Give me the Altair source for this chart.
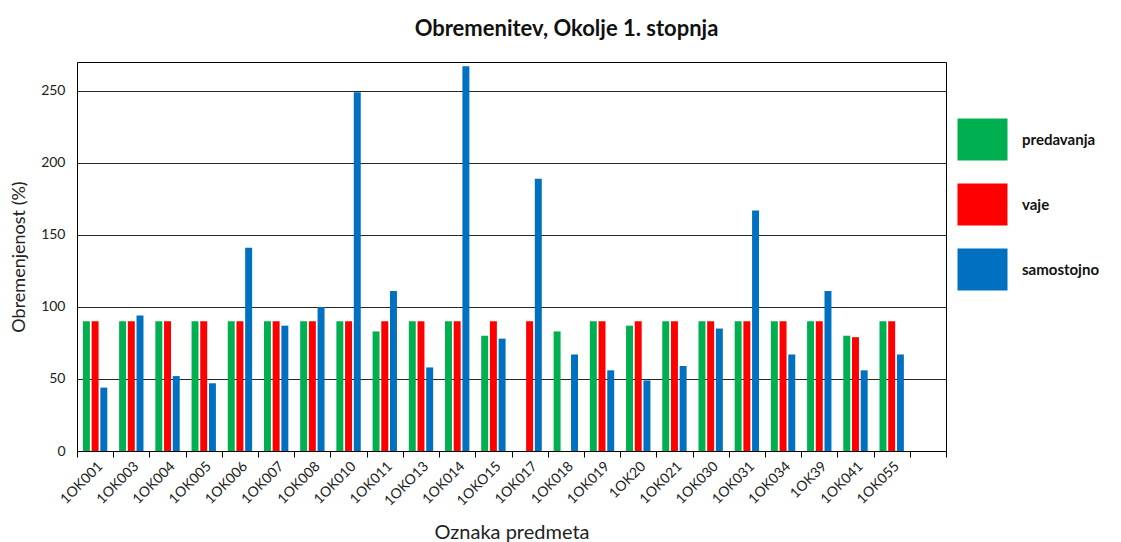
import altair as alt
import pandas as pd

categories = ["1OK001", "1OK003", "1OK004", "1OK005", "1OK006", "1OK007", "1OK008",
              "1OK010", "1OK011", "1OKO13", "1OK014", "1OKO15", "1OK017", "1OK018",
              "1OK019", "1OK20", "1OK021", "1OK030", "1OK031", "1OK034", "1OK39",
              "1OK041", "1OK055"]
predavanja = [90, 90, 90, 90, 90, 90, 90, 90, 83, 90, 90, 80, None, 83,
              90, 87, 90, 90, 90, 90, 90, 80, 90]
vaje = [90, 90, 90, 90, 90, 90, 90, 90, 90, 90, 90, 90, 90, None,
        90, 90, 90, 90, 90, 90, 90, 79, 90]
samostojno = [44, 94, 52, 47, 141, 87, 100, 249, 111, 58, 267, 78, 189, 67,
              56, 49, 59, 85, 167, 67, 111, 56, 67]

series_names = ["predavanja", "vaje", "samostojno"]
series_colors = ["#00B050", "#FF0000", "#0070C0"]

rows = []
for name, vals in zip(series_names, [predavanja, vaje, samostojno]):
    for c, v in zip(categories, vals):
        if v is not None:
            rows.append({"predmet": c, "vrsta": name, "vrednost": v})
df = pd.DataFrame(rows)

domain_x = categories + [" "]
FONT = "Lato"

chart = alt.Chart(df).mark_bar().encode(
    x=alt.X("predmet:N", sort=domain_x,
            scale=alt.Scale(domain=domain_x, paddingInner=0, paddingOuter=0),
            axis=alt.Axis(title="Oznaka predmeta", labelAngle=-45, tickBand="extent",
                          tickSize=6, tickColor="#000000", domainColor="#000000",
                          labelColor="#222222", labelFontSize=14, labelFont=FONT,
                          titleFont=FONT, titleFontSize=20, titleFontWeight="normal",
                          titleColor="#222222", titlePadding=14)),
    xOffset=alt.XOffset("vrsta:N", sort=series_names,
                        scale=alt.Scale(domain=series_names, paddingInner=0.2, paddingOuter=0.68)),
    y=alt.Y("vrednost:Q",
            scale=alt.Scale(domain=[0, 270], nice=False),
            axis=alt.Axis(title="Obremenjenost (%)", values=[0, 50, 100, 150, 200, 250],
                          grid=True, gridColor="#000000", gridOpacity=0.85, gridWidth=1,
                          tickSize=0, domain=False, labelPadding=12,
                          labelColor="#222222", labelFontSize=14, labelFont=FONT,
                          titleFont=FONT, titleFontSize=18, titleFontWeight="normal",
                          titleColor="#222222", titlePadding=12)),
    color=alt.Color("vrsta:N", sort=series_names,
                    scale=alt.Scale(domain=series_names, range=series_colors),
                    legend=alt.Legend(title=None, orient="none", legendX=880, legendY=52,
                                      symbolType="M-1,-0.84H1V0.84H-1Z", symbolSize=2500,
                                      symbolStrokeColor="#7a9cc0", symbolStrokeWidth=1,
                                      symbolOpacity=1, labelFont=FONT, labelFontSize=15,
                                      labelFontWeight="bold", labelColor="#111111",
                                      labelOffset=14, rowPadding=18, labelBaseline="middle")),
).properties(
    width=869,
    height=389,
    title=alt.Title("Obremenitev, Okolje 1. stopnja", font=FONT, fontSize=22,
                    fontWeight="bold", color="#111111", anchor="middle", dx=55, offset=21),
    autosize=alt.AutoSizeParams(type="none"),
    padding={"left": 69, "top": 54, "right": 160, "bottom": 91},
).configure_view(
    stroke="#000000", strokeWidth=1
).configure_bar(
    stroke="#ffffff", strokeOpacity=0.0
)

chart.save("out.html", embed_options={"renderer": "svg", "actions": False})
